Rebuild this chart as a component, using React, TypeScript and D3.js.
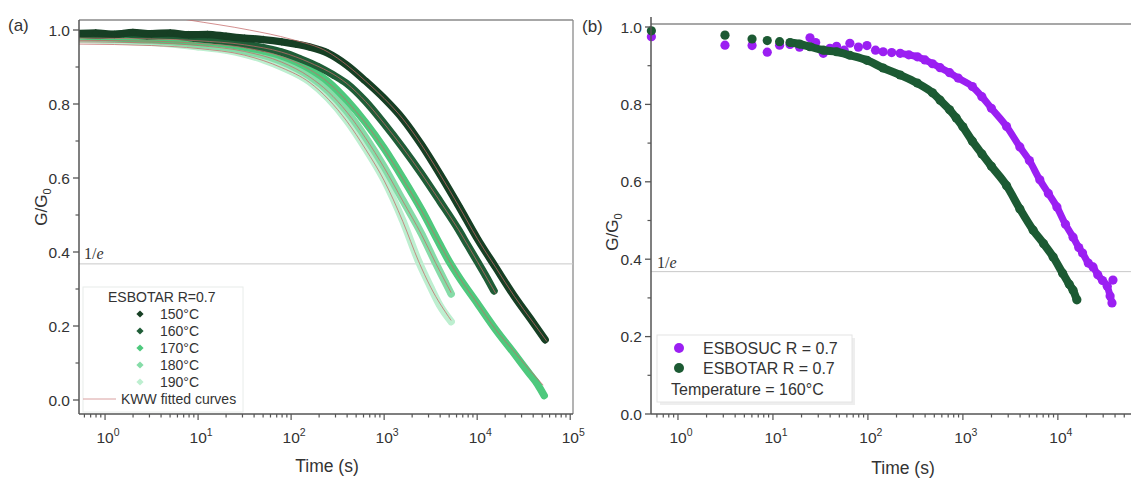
import React from 'react';
import * as d3 from 'd3';

// ---------- Panel (a) data: [log10(time/s), G/G0] ----------
const temps = ['150°C', '160°C', '170°C', '180°C', '190°C'];
const tempColors = ['#163f24', '#1f5d37', '#4ec97d', '#86dca8', '#bdefd0'];

const d150: [number, number][] = [
  [-0.3, 0.99], [-0.1, 0.992], [0.1, 0.988], [0.3, 0.993], [0.5, 0.99], [0.7, 0.992], [0.9, 0.987],
  [1.1, 0.988], [1.3, 0.983], [1.5, 0.978], [1.7, 0.974], [1.9, 0.968], [2.05, 0.962], [2.2, 0.954],
  [2.4, 0.937], [2.6, 0.905], [2.8, 0.862], [3.0, 0.815], [3.2, 0.76], [3.4, 0.69], [3.6, 0.61],
  [3.8, 0.525], [4.0, 0.437], [4.2, 0.358], [4.4, 0.28], [4.6, 0.21], [4.73, 0.163],
];
const d160: [number, number][] = [
  [-0.3, 0.99], [-0.05, 0.986], [0.2, 0.99], [0.45, 0.984], [0.7, 0.986], [0.95, 0.978],
  [1.2, 0.972], [1.5, 0.962], [1.7, 0.952], [1.9, 0.94], [2.1, 0.922], [2.3, 0.9], [2.45, 0.879],
  [2.6, 0.855], [2.8, 0.807], [3.0, 0.747], [3.2, 0.682], [3.4, 0.612], [3.6, 0.537], [3.8, 0.46],
  [3.9, 0.417], [4.0, 0.375], [4.1, 0.332], [4.18, 0.295],
];
const d170: [number, number][] = [
  [-0.3, 0.985], [0.2, 0.978], [0.6, 0.974], [1.0, 0.968], [1.3, 0.962], [1.5, 0.954], [1.7, 0.944],
  [1.9, 0.93], [2.2, 0.895], [2.4, 0.86], [2.6, 0.81], [2.8, 0.75], [3.0, 0.68], [3.2, 0.6],
  [3.4, 0.515], [3.6, 0.42], [3.7, 0.374], [3.8, 0.334], [4.0, 0.262], [4.2, 0.19], [4.4, 0.125],
  [4.55, 0.075], [4.65, 0.042], [4.72, 0.012],
];
const d180: [number, number][] = [
  [-0.3, 0.98], [0.2, 0.975], [0.6, 0.97], [1.0, 0.961], [1.3, 0.953], [1.5, 0.944], [1.7, 0.932],
  [1.9, 0.915], [2.2, 0.875], [2.4, 0.835], [2.6, 0.78], [2.8, 0.71], [3.0, 0.63], [3.2, 0.54],
  [3.4, 0.45], [3.55, 0.372], [3.65, 0.322], [3.72, 0.287],
];
const d190: [number, number][] = [
  [-0.3, 0.975], [0.2, 0.97], [0.6, 0.965], [1.0, 0.955], [1.3, 0.946], [1.5, 0.935], [1.7, 0.92],
  [1.9, 0.9], [2.2, 0.86], [2.4, 0.815], [2.6, 0.755], [2.8, 0.68], [3.0, 0.595], [3.2, 0.485],
  [3.37, 0.375], [3.5, 0.305], [3.6, 0.255], [3.72, 0.212],
];
const seriesA = [d150, d160, d170, d180, d190];

// KWW fitted curves
const fit150: [number, number][] = [
  [-0.3, 1.07], [0.3, 1.052], [0.9, 1.027], [1.55, 1.0], [2.0, 0.975], [2.4, 0.94], [2.6, 0.905],
  [2.8, 0.862], [3.0, 0.815], [3.2, 0.76], [3.4, 0.69], [3.6, 0.61], [3.8, 0.525], [4.0, 0.437],
  [4.2, 0.358], [4.4, 0.28], [4.6, 0.21], [4.75, 0.158],
];
const fit160: [number, number][] = [
  [-0.3, 0.978], [0.5, 0.976], [1.0, 0.971], [1.5, 0.96], [1.9, 0.94], [2.2, 0.912], [2.6, 0.855],
  [2.8, 0.807], [3.0, 0.747], [3.2, 0.682], [3.4, 0.612], [3.6, 0.537], [3.8, 0.46], [4.0, 0.375],
  [4.2, 0.288],
];
const fit170: [number, number][] = [
  [-0.3, 0.972], [0.5, 0.97], [1.0, 0.964], [1.5, 0.952], [1.9, 0.928], [2.2, 0.893], [2.4, 0.858],
  [2.6, 0.808], [2.8, 0.748], [3.0, 0.678], [3.2, 0.598], [3.4, 0.513], [3.6, 0.42], [3.8, 0.334],
  [4.0, 0.262], [4.2, 0.19], [4.4, 0.13], [4.55, 0.085], [4.71, 0.04],
];
const fit180: [number, number][] = [
  [-0.3, 0.968], [0.5, 0.965], [1.0, 0.958], [1.5, 0.942], [1.9, 0.913], [2.2, 0.873], [2.4, 0.833],
  [2.6, 0.778], [2.8, 0.708], [3.0, 0.628], [3.2, 0.538], [3.4, 0.448], [3.55, 0.372], [3.72, 0.29],
];
const fit190: [number, number][] = [
  [-0.3, 0.962], [0.5, 0.958], [1.0, 0.95], [1.5, 0.932], [1.9, 0.898], [2.2, 0.858], [2.4, 0.813],
  [2.6, 0.753], [2.8, 0.678], [3.0, 0.593], [3.2, 0.483], [3.37, 0.375], [3.5, 0.305], [3.72, 0.215],
];
const fitsA = [fit150, fit160, fit170, fit180, fit190];

// ---------- Panel (b) data: [log10(time/s), G/G0] ----------
const esbosuc: [number, number][] = [
  [-0.28, 0.975], [0.495, 0.953], [0.78, 0.952], [0.94, 0.935], [1.07, 0.953], [1.18, 0.955],
  [1.28, 0.948], [1.39, 0.972], [1.45, 0.96], [1.53, 0.932], [1.6, 0.945], [1.67, 0.95], [1.75, 0.94],
  [1.81, 0.958], [1.9, 0.948], [1.99, 0.952], [2.08, 0.94], [2.16, 0.936], [2.25, 0.934],
  [2.34, 0.932], [2.43, 0.928], [2.52, 0.923], [2.6, 0.915], [2.68, 0.905], [2.76, 0.895],
  [2.86, 0.882], [2.95, 0.868], [3.1, 0.846], [3.2, 0.82], [3.3, 0.79], [3.46, 0.743], [3.6, 0.69],
  [3.7, 0.655], [3.81, 0.605], [3.9, 0.57], [3.99, 0.535], [4.08, 0.49], [4.16, 0.457], [4.22, 0.43],
  [4.26, 0.416], [4.32, 0.39], [4.37, 0.38], [4.42, 0.36], [4.47, 0.345], [4.52, 0.33],
  [4.58, 0.346], [4.55, 0.305], [4.57, 0.287],
];
const esbotar: [number, number][] = [
  [-0.28, 0.99], [0.495, 0.979], [0.78, 0.969], [0.94, 0.965], [1.07, 0.962], [1.18, 0.96],
  [1.28, 0.956], [1.39, 0.949], [1.53, 0.94], [1.67, 0.936], [1.81, 0.927], [1.99, 0.914],
  [2.16, 0.894], [2.34, 0.876], [2.52, 0.855], [2.68, 0.83], [2.76, 0.811], [2.86, 0.786],
  [2.93, 0.765], [3.0, 0.742], [3.1, 0.705], [3.2, 0.672], [3.3, 0.64], [3.46, 0.59], [3.6, 0.53],
  [3.74, 0.475], [3.85, 0.44], [3.95, 0.406], [4.05, 0.364], [4.12, 0.335], [4.16, 0.32], [4.2, 0.295],
];
const seriesBNames = ['ESBOSUC R = 0.7', 'ESBOTAR R = 0.7'];
const seriesBColors = ['#9b1ff2', '#1c5a33'];

const yTicks = [0, 0.2, 0.4, 0.6, 0.8, 1.0];
const yMinor = [0.1, 0.3, 0.5, 0.7, 0.9];
const ONE_OVER_E = 1 / Math.E;

const FONT = 'Liberation Sans, Arial, sans-serif';
const AXIS = '#555';
const TXT = '#333';

type Scale = { x: d3.ScaleLogarithmic<number, number>; y: d3.ScaleLinear<number, number> };

function Axes({ x, y, axisY, decades, right }: Scale & { axisY: number; decades: number[]; right: number }) {
  const [x0] = x.range();
  const ticks = x.ticks();
  return (
    <g>
      <line x1={x0} x2={x0} y1={y.range()[1] - 10} y2={axisY} stroke={AXIS} strokeWidth={1.5} />
      {yTicks.map((t) => (
        <g key={'y' + t}>
          <line x1={x0 - 6} x2={x0} y1={y(t)} y2={y(t)} stroke={AXIS} strokeWidth={1.3} />
          <text x={x0 - 9} y={y(t) + 5.5} textAnchor="end" fontSize={15.5} fill={TXT} fontFamily={FONT}>
            {t.toFixed(1)}
          </text>
        </g>
      ))}
      {yMinor.map((t) => (
        <line key={'ym' + t} x1={x0 - 3.5} x2={x0} y1={y(t)} y2={y(t)} stroke={AXIS} strokeWidth={1.2} />
      ))}
      <line x1={x0} x2={right} y1={axisY} y2={axisY} stroke={AXIS} strokeWidth={1.5} />
      {ticks.map((t, i) => {
        const lg = Math.log10(t);
        const major = Math.abs(lg - Math.round(lg)) < 1e-6;
        const px = x(t);
        if (px < x0 || px > right) return null;
        return (
          <line key={'xt' + i} x1={px} x2={px} y1={axisY} y2={axisY + (major ? 6 : 3.5)} stroke={AXIS} strokeWidth={1.2} />
        );
      })}
      {decades.map((d) => (
        <text key={'xl' + d} x={x(10 ** d) + 3} y={axisY + 29} textAnchor="middle" fontSize={15.5} fill={TXT} fontFamily={FONT}>
          <tspan>10</tspan>
          <tspan dy={-7} fontSize={10.5}>{d}</tspan>
        </text>
      ))}
    </g>
  );
}

export default function App() {
  const xA = d3.scaleLog().domain([10 ** -0.28, 10 ** 5.03]).range([79, 573]);
  const yA = d3.scaleLinear().domain([0, 1]).range([400, 30]);
  const axisYA = 414;
  const topA = 20;
  const xB = d3.scaleLog().domain([10 ** -0.284, 10 ** 4.77]).range([651, 1131]);
  const yB = d3.scaleLinear().domain([0, 1]).range([414, 27]);
  const axisYB = 414;
  const topB = 24;

  const lineA = d3
    .line<[number, number]>()
    .x((d) => xA(10 ** d[0]))
    .y((d) => yA(d[1]))
    .curve(d3.curveMonotoneX);
  const lineB = d3
    .line<[number, number]>()
    .x((d) => xB(10 ** d[0]))
    .y((d) => yB(d[1]))
    .curve(d3.curveMonotoneX);

  const diamond = d3.symbol(d3.symbolSquare, 32)() || '';
  const diamondLeg = d3.symbol(d3.symbolSquare, 26)() || '';

  const esbotarSorted = esbotar.slice().sort((a, b) => a[0] - b[0]);
  const esbosucBand = esbosuc
    .filter((d) => d[0] >= 2.3 && d[0] !== 4.58)
    .sort((a, b) => a[0] - b[0]);

  return (
    <svg width={1131} height={479} style={{ position: 'absolute', left: 0, top: 0, background: '#fff' }} fontFamily={FONT}>
      <defs>
        <clipPath id="clipA">
          <rect x={79} y={topA} width={573 - 79} height={axisYA - topA} />
        </clipPath>
        <clipPath id="clipB">
          <rect x={645} y={topB} width={1131 - 645} height={axisYB - topB} />
        </clipPath>
      </defs>
      <rect x={0} y={0} width={1131} height={479} fill="#fff" />

      {/* ---------------- Panel (a) ---------------- */}
      <line x1={79} x2={573} y1={topA} y2={topA} stroke="#8a8a8a" strokeWidth={1.3} />
      <line x1={573} x2={573} y1={topA} y2={axisYA} stroke="#8a8a8a" strokeWidth={1.3} />
      <line x1={79} x2={573} y1={yA(ONE_OVER_E)} y2={yA(ONE_OVER_E)} stroke="#c8c8c8" strokeWidth={1} />
      <text x={84} y={yA(ONE_OVER_E) - 5} fontSize={16} fontFamily="Liberation Serif, DejaVu Serif, serif" fill="#333">
        1/<tspan fontStyle="italic">e</tspan>
      </text>

      <g clipPath="url(#clipA)">
        {seriesA
          .map((s, i) => ({ s, i }))
          .reverse()
          .map(({ s, i }) => (
            <g key={'sa' + i}>
              <path d={lineA(s) || ''} fill="none" stroke={tempColors[i]} strokeWidth={7.5} strokeLinecap="round" strokeLinejoin="round" />
              {s.map((d, j) => (
                <path key={j} d={diamond} transform={`translate(${xA(10 ** d[0])},${yA(d[1])}) rotate(45)`} fill={tempColors[i]} />
              ))}
            </g>
          ))}
        {fitsA.map((f, i) => (
          <path key={'fit' + i} d={lineA(f) || ''} fill="none" stroke="#c46a6a" strokeOpacity={0.75} strokeWidth={1} />
        ))}
      </g>

      <Axes x={xA} y={yA} axisY={axisYA} decades={[0, 1, 2, 3, 4, 5]} right={573} />

      {/* legend (a) */}
      <rect x={83} y={287} width={160} height={125} fill="#fff" stroke="#e8ecea" strokeWidth={1} />
      <text x={108} y={302} fontSize={14} fill={TXT}>ESBOTAR R=0.7</text>
      {temps.map((t, i) => (
        <g key={'la' + t}>
          <path d={diamondLeg} transform={`translate(140,${314 + i * 17}) rotate(45)`} fill={tempColors[i]} />
          <text x={160} y={319 + i * 17} fontSize={14} fill={TXT}>{t}</text>
        </g>
      ))}
      <line x1={83} x2={116} y1={399} y2={399} stroke="#d9a0a0" strokeWidth={1} />
      <text x={121} y={404} fontSize={14} fill={TXT}>KWW fitted curves</text>

      <text x={8} y={31} fontSize={17} fill={TXT}>(a)</text>
      <text transform={`translate(47,207) rotate(-90)`} textAnchor="middle" fontSize={17} fill={TXT}>
        G/G<tspan fontSize={11} dy={4}>0</tspan>
      </text>
      <text x={327} y={472} textAnchor="middle" fontSize={17.5} fill={TXT}>Time (s)</text>

      {/* ---------------- Panel (b) ---------------- */}
      <line x1={651} x2={1131} y1={topB} y2={topB} stroke="#8a8a8a" strokeWidth={1.3} />
      <line x1={651} x2={1131} y1={yB(ONE_OVER_E)} y2={yB(ONE_OVER_E)} stroke="#c8c8c8" strokeWidth={1} />
      <text x={657} y={yB(ONE_OVER_E) - 4} fontSize={16} fontFamily="Liberation Serif, DejaVu Serif, serif" fill="#333">
        1/<tspan fontStyle="italic">e</tspan>
      </text>

      <g clipPath="url(#clipB)">
        <path d={lineB(esbosucBand) || ''} fill="none" stroke={seriesBColors[0]} strokeWidth={7} strokeLinecap="round" />
        {esbosuc.map((d, j) => (
          <circle key={'p' + j} cx={xB(10 ** d[0])} cy={yB(d[1])} r={4.6} fill={seriesBColors[0]} />
        ))}
        <path
          d={lineB(esbotarSorted.filter((d) => d[0] >= 1.1)) || ''}
          fill="none"
          stroke={seriesBColors[1]}
          strokeWidth={8}
          strokeLinecap="round"
        />
        {esbotar.map((d, j) => (
          <circle key={'g' + j} cx={xB(10 ** d[0])} cy={yB(d[1])} r={4.6} fill={seriesBColors[1]} />
        ))}
      </g>

      <Axes x={xB} y={yB} axisY={axisYB} decades={[0, 1, 2, 3, 4]} right={1131} />

      {/* legend (b) */}
      <rect x={660} y={338} width={195} height={67} fill="#eeeeee" />
      <rect x={657} y={335} width={195} height={67} fill="#fff" stroke="#e4e4e4" strokeWidth={1} />
      {seriesBNames.map((n, i) => (
        <g key={'lb' + n}>
          <circle cx={679} cy={348 + i * 20} r={5} fill={seriesBColors[i]} />
          <text x={703} y={354 + i * 20} fontSize={16} fill={TXT}>{n}</text>
        </g>
      ))}
      <text x={671} y={395} fontSize={16} fill={TXT}>Temperature = 160°C</text>

      <text x={582} y={32} fontSize={17} fill={TXT}>(b)</text>
      <text transform={`translate(618,232) rotate(-90)`} textAnchor="middle" fontSize={17} fill={TXT}>
        G/G<tspan fontSize={11} dy={4}>0</tspan>
      </text>
      <text x={903} y={474} textAnchor="middle" fontSize={17.5} fill={TXT}>Time (s)</text>
    </svg>
  );
}
